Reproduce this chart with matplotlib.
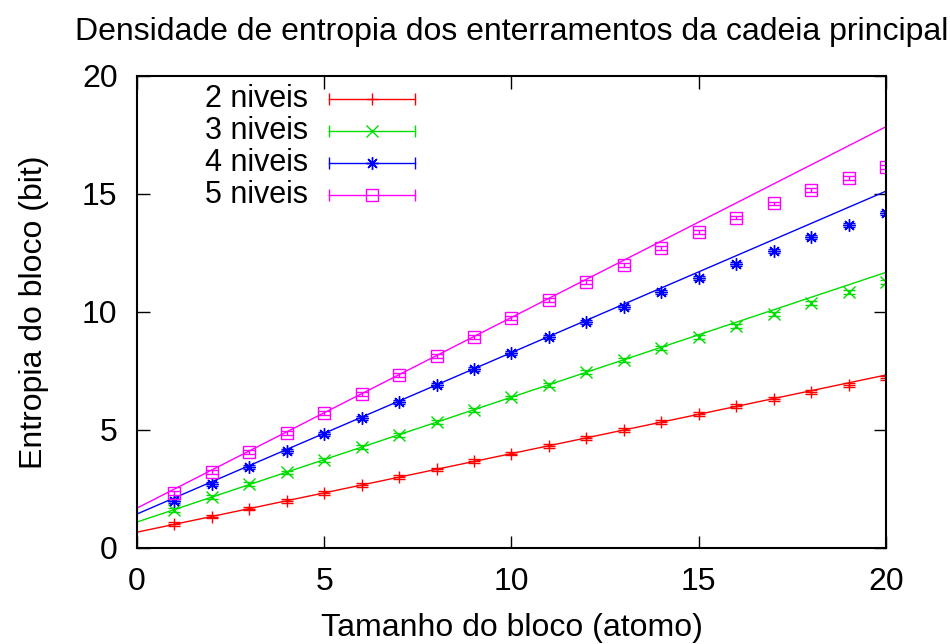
import numpy as np
import matplotlib
matplotlib.use("Agg")
import matplotlib.pyplot as plt

plt.rcParams['font.family'] = ['Liberation Sans', 'DejaVu Sans']

tamanho = np.arange(1, 21)

ent_2 = [1.0, 1.33, 1.67, 2.0, 2.33, 2.67, 3.0, 3.33, 3.67, 4.0,
         4.33, 4.67, 5.0, 5.33, 5.67, 6.0, 6.3, 6.6, 6.9, 7.2]
ent_3 = [1.6, 2.15, 2.7, 3.2, 3.73, 4.27, 4.8, 5.33, 5.85, 6.38,
         6.9, 7.45, 7.95, 8.47, 8.93, 9.4, 9.9, 10.38, 10.85, 11.27]
ent_4 = [2.0, 2.72, 3.43, 4.12, 4.83, 5.5, 6.2, 6.9, 7.58, 8.25,
         8.93, 9.58, 10.2, 10.85, 11.44, 12.03, 12.58, 13.18, 13.69, 14.2]
ent_5 = [2.33, 3.22, 4.07, 4.87, 5.72, 6.52, 7.33, 8.14, 8.94, 9.75,
         10.5, 11.27, 12.0, 12.7, 13.39, 14.0, 14.6, 15.17, 15.68, 16.14]

# ajustes lineares a + b*x
fit_a = [0.67, 1.10, 1.44, 1.69]
fit_b = [0.333, 0.529, 0.684, 0.808]

labels = ["2 niveis", "3 niveis", "4 niveis", "5 niveis"]
cores = ["#ff0000", "#00dd00", "#0000ff", "#ff00ff"]
marcas = ["+", "x", (8, 2, 0), "s"]
series = [ent_2, ent_3, ent_4, ent_5]

FS = 23

fig = plt.figure(figsize=(9.5, 6.44), dpi=100)
ax = fig.add_axes([0.1442, 0.1491, 0.7884, 0.7329])

xl = np.linspace(0, 20, 50)
for i in range(4):
    ax.plot(xl, fit_a[i] + fit_b[i] * xl, color=cores[i], lw=1)
    mfc = "none" if marcas[i] == "s" else cores[i]
    ax.errorbar(tamanho, series[i], yerr=0.08, fmt="none", ecolor=cores[i],
                elinewidth=1, capsize=4, capthick=1)
    ax.plot(tamanho, series[i], ls="none", marker=marcas[i], color=cores[i],
            mfc=mfc, ms=9 if marcas[i] != "s" else 8, mew=1)

# legenda estilo gnuplot
ys = [0.951, 0.8835, 0.8157, 0.748]
for i in range(4):
    ax.text(0.2283, ys[i], labels[i], transform=ax.transAxes, ha="right",
            va="center", fontsize=FS - 1)
    ax.plot([0.2563, 0.3712], [ys[i], ys[i]], transform=ax.transAxes,
            color=cores[i], lw=1, clip_on=False)
    ax.plot([0.2563, 0.3712], [ys[i], ys[i]], transform=ax.transAxes,
            ls="none", marker="|", ms=9, mew=1, color=cores[i], clip_on=False)
    mfc = "none" if marcas[i] == "s" else cores[i]
    ax.plot([0.3137], [ys[i]], transform=ax.transAxes, ls="none",
            marker=marcas[i], color=cores[i], mfc=mfc,
            ms=9 if marcas[i] != "s" else 8, mew=1, clip_on=False)

ax.set_xlim(0, 20)
ax.set_ylim(0, 20)
ax.set_xticks([0, 5, 10, 15, 20])
ax.set_yticks([0, 5, 10, 15, 20])
ax.tick_params(direction="in", length=9, width=1, labelsize=FS,
               top=True, right=True)
ax.tick_params(axis="x", pad=14)
ax.tick_params(axis="y", pad=14)
for s in ax.spines.values():
    s.set_linewidth(1.5)

ax.set_title("Densidade de entropia dos enterramentos da cadeia principal",
             fontsize=FS, pad=26)
ax.set_xlabel("Tamanho do bloco (atomo)", fontsize=FS, labelpad=11)
ax.set_ylabel("Entropia do bloco (bit)", fontsize=FS, labelpad=24)

fig.savefig("out.png", dpi=100)
